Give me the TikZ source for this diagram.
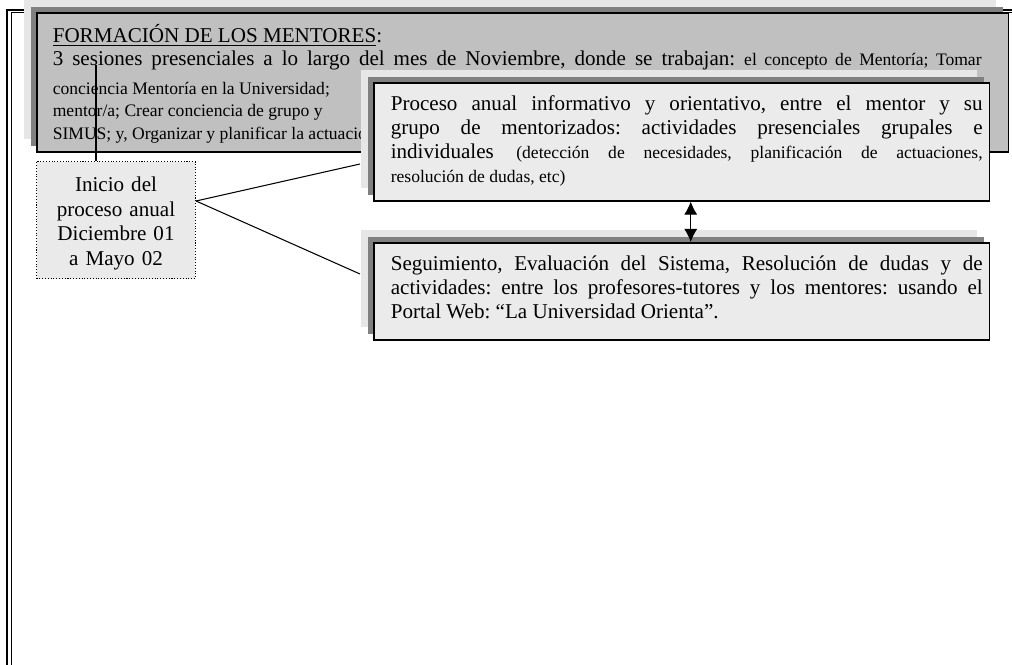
\documentclass[tikz,border=0pt]{standalone}
\usepackage{fontspec}
\setmainfont{Liberation Serif}
\usetikzlibrary{shadows,arrows.meta}
\definecolor{boxgray}{HTML}{C0C0C0}
\definecolor{boxlight}{HTML}{EBEBEB}
\definecolor{shadelight}{HTML}{E6E6E6}
\definecolor{shadedark}{HTML}{808080}
\definecolor{inicioback}{HTML}{EAEAEA}
\frenchspacing
\tikzset{
  wordshadow/.style={copy shadow={shadow xshift=-0.26cm, shadow yshift=0.26cm, fill=shadelight, draw=none},
                     copy shadow={shadow xshift=-0.12cm, shadow yshift=0.12cm, fill=shadedark, draw=none}},
  textbox/.style={draw, line width=0.9pt, wordshadow, anchor=north west, inner ysep=0pt,
                  align=justify, font=\fontsize{12}{13.6}\selectfont},
  connector/.style={line width=0.6pt},
  bothways/.style={{Latex[length=0.26cm, width=0.26cm]}-{Latex[length=0.26cm, width=0.26cm]}}
}
\begin{document}
\begin{tikzpicture}[x=0.02cm, y=-0.02cm]
\useasboundingbox (0,0) rectangle (1012,665);
% marco de la pagina
\draw[connector] (7,665) -- (7,10) -- (1012,10);
\draw[connector] (11.5,665) -- (11.5,12.5) -- (1012,12.5);
% formacion
\node[textbox, fill=boxgray, text width=18.8cm, inner xsep=0.32cm, text height=0.59cm, text depth=2.19cm,
      font=\fontsize{12}{13}\selectfont] (formacion) at (36,12)
  {\rightskip=0.22cm
   \underline{FORMACIÓN DE LOS MENTORES}:\\
   3 sesiones presenciales a lo largo del mes de Noviembre, donde se trabajan: {\fontsize{10}{13}\selectfont el concepto de Mentoría; Tomar}\vadjust{\vskip3.5pt}\linebreak
   \fontsize{10}{13}\selectfont conciencia Mentoría en la Universidad;\\
   mentor/a; Crear conciencia de grupo y\\
   SIMUS; y, Organizar y planificar la actuación\par};
% inicio
\node[draw, densely dotted, line width=0.6pt, fill=inicioback, anchor=north west, align=center,
      text width=2.98cm, inner xsep=0.1cm, inner ysep=0pt, text height=0.6cm, text depth=1.74cm,
      font=\fontsize{12}{14}\selectfont] (inicio) at (36,161)
  {Inicio del\\proceso anual\\Diciembre 01\\a Mayo 02};
% proceso anual
\node[textbox, fill=boxlight, text width=12.04cm, inner xsep=0.14cm, text height=0.56cm, text depth=1.8cm] (proceso) at (373,82)
  {\leftskip=0.2cm
   Proceso anual informativo y orientativo, entre el mentor y su\linebreak
   grupo de mentorizados: actividades presenciales grupales e\linebreak
   individuales {\fontsize{10}{13}\selectfont (detección de necesidades, planificación de actuaciones,\linebreak
   resolución de dudas, etc)}\par};
% seguimiento
\node[textbox, fill=boxlight, text width=12.04cm, inner xsep=0.14cm, text height=0.56cm, text depth=1.38cm] (seguimiento) at (373,242)
  {\leftskip=0.2cm
   Seguimiento, Evaluación del Sistema, Resolución de dudas y de\linebreak
   actividades: entre los profesores-tutores y los mentores: usando el\linebreak
   Portal Web: “La Universidad Orienta”.\par};
% conectores
\coordinate (callout) at (96,65);
\coordinate (fork) at (inicio.east |- 0,201);
\coordinate (procin) at (360,164);
\coordinate (seguin) at (360,274);
\draw[connector] (callout |- inicio.north) -- (callout);
\draw[connector] (fork) -- (procin);
\draw[connector] (fork) -- (seguin);
\draw[connector, bothways] ([xshift=0.18cm]proceso.south) -- ([xshift=0.18cm]seguimiento.north);
\end{tikzpicture}
\end{document}
